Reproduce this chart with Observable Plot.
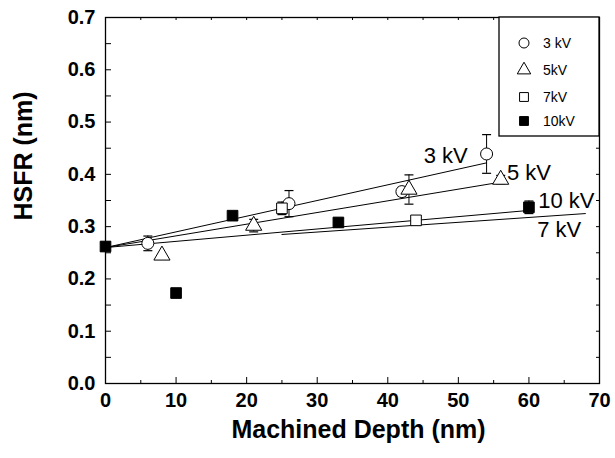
<!DOCTYPE html>
<html><head><meta charset="utf-8">
<script src="https://cdn.jsdelivr.net/npm/d3@7"></script>
<script src="https://cdn.jsdelivr.net/npm/@observablehq/plot@0.6"></script>
<style>body{margin:0;background:#fff}</style>
</head><body><div id="chart"></div>
<script>
// ---- data ----
const seriesNames = ["3 kV", "5kV", "7kV", "10kV"];
const kv3X = [6, 26, 42, 54];
const kv3Y = [0.268, 0.344, 0.367, 0.439];
const kv3E = [0.014, 0.025, 0.008, 0.037];
const kv5X = [8, 21, 43, 56];
const kv5Y = [0.245, 0.302, 0.371, 0.390];
const kv5E = [0, 0.012, 0.028, 0.008];
const kv7X = [25, 44];
const kv7Y = [0.335, 0.312];
const kv7E = [0.012, 0.006];
const kv10X = [0, 10, 18, 33, 60];
const kv10Y = [0.262, 0.173, 0.321, 0.308, 0.337];
const kv10E = [0.008, 0, 0, 0, 0.012];
// fitted lines (endpoints)
const fit3X = [0, 54], fit3Y = [0.26, 0.422];
const fit5X = [0, 55.5], fit5Y = [0.26, 0.384];
const fit7X = [25, 68], fit7Y = [0.285, 0.325];
const fit10X = [0, 60], fit10Y = [0.26, 0.331];
const lineLabels = ["3 kV", "5 kV", "10 kV", "7 kV"];
const lineLabelX = [48.2, 60.0, 65.3, 64.3];
const lineLabelY = [0.436, 0.402, 0.350, 0.293];
// ticks
const xTicks = [0, 10, 20, 30, 40, 50, 60, 70];
const xMinor = [5, 15, 25, 35, 45, 55, 65];
const yTicks = [0, 0.1, 0.2, 0.3, 0.4, 0.5, 0.6, 0.7];
const yTickLabels = ["0.0", "0.1", "0.2", "0.3", "0.4", "0.5", "0.6", "0.7"];
const yMinor = [0.05, 0.15, 0.25, 0.35, 0.45, 0.55, 0.65];
const xTitle = "Machined Depth (nm)";
const yTitle = "HSFR (nm)";

// ---- layout ----
const W = 615, H = 458, mL = 105, mR = 16, mT = 17, mB = 75;
const iw = W - mL - mR, ih = H - mT - mB;
const FONT = "'Liberation Sans', Arial, sans-serif";

const symbols = ["circle", "triangle", "square", "square"];
const fills = ["white", "white", "white", "black"];
const sets = [[kv3X, kv3Y, kv3E], [kv5X, kv5Y, kv5E], [kv7X, kv7Y, kv7E], [kv10X, kv10Y, kv10E]];
const pts = [];
sets.forEach(([xs, ys, es], k) => xs.forEach((x, i) => pts.push({s: seriesNames[k], k, x, y: ys[i], e: es[i]})));
const errPts = pts.filter(d => d.e > 0);
const fits = [[fit3X, fit3Y], [fit5X, fit5Y], [fit7X, fit7Y], [fit10X, fit10Y]]
  .map(([xs, ys], k) => xs.map((x, i) => ({k, x, y: ys[i]})));
const labels = lineLabels.map((t, i) => ({t, x: lineLabelX[i], y: lineLabelY[i]}));

const cap = {draw(ctx) { ctx.moveTo(-4.5, 0); ctx.lineTo(4.5, 0); }};

const marks = [
  // inward ticks
  Plot.tickX(xTicks, {x: d => d, insetTop: ih - 6, stroke: "black"}),
  Plot.tickX(xMinor, {x: d => d, insetTop: ih - 3, stroke: "black"}),
  Plot.tickX(xTicks.concat(xMinor), {x: d => d, insetBottom: ih - 3, stroke: "black"}),
  Plot.tickY(yTicks.concat(yMinor), {y: d => d, insetRight: iw - 6, stroke: "black"}),
  Plot.tickY(yTicks.concat(yMinor), {y: d => d, insetLeft: iw - 3, stroke: "black"}),
  Plot.axisX(xTicks, {tickSize: 0, tickPadding: 9, label: null, tickFormat: d => String(d)}),
  Plot.axisY(yTicks, {tickSize: 0, tickPadding: 10, label: null, tickFormat: d => yTickLabels[yTicks.indexOf(d)]}),
  Plot.frame({stroke: "black", strokeWidth: 1.3}),
  ...fits.map(f => Plot.line(f, {x: "x", y: "y", stroke: "black", strokeWidth: 1})),
  Plot.ruleX(errPts, {x: "x", y1: d => d.y - d.e, y2: d => d.y + d.e, stroke: "black", strokeWidth: 1}),
  Plot.dot(errPts, {x: "x", y: d => d.y - d.e, symbol: cap, stroke: "black", strokeWidth: 1.2}),
  Plot.dot(errPts, {x: "x", y: d => d.y + d.e, symbol: cap, stroke: "black", strokeWidth: 1.2}),
  Plot.dot(pts, {x: "x", y: "y", symbol: d => symbols[d.k], fill: d => fills[d.k], stroke: "black", strokeWidth: 1, r: 6}),
  Plot.text(labels, {x: "x", y: "y", text: "t", fontSize: 22, fontWeight: "normal", textAnchor: "middle"}),
  Plot.text([xTitle], {frameAnchor: "bottom", dy: 54, dx: 6, fontSize: 25, fontWeight: "bold"}),
  Plot.text([yTitle], {frameAnchor: "left", rotate: -90, dx: -82, dy: 20, fontSize: 25, fontWeight: "bold"})
];

const plot = Plot.plot({
  width: W, height: H,
  marginLeft: mL, marginRight: mR, marginTop: mT, marginBottom: mB,
  style: {fontFamily: FONT, fontSize: "20px", fontWeight: "bold", background: "white", color: "black", overflow: "visible"},
  x: {domain: [0, 70], axis: null},
  y: {domain: [0, 0.7], axis: null},
  symbol: {type: "identity"},
  fill: {type: "identity"},
  marks
});

// legend box (top-right corner of the frame)
const svg = d3.select(plot);
const lw = 100, lh = 119;
const lg = svg.append("g").attr("transform", `translate(${W - mR - lw},${mT})`);
lg.append("rect").attr("width", lw).attr("height", lh).attr("fill", "white").attr("stroke", "black").attr("stroke-width", 1.3);
const symTypes = [d3.symbolCircle, d3.symbolTriangle, d3.symbolSquare, d3.symbolSquare];
const rowY = [26, 53, 80, 104];
seriesNames.forEach((name, k) => {
  const g = lg.append("g").attr("transform", `translate(25,${rowY[k]})`);
  g.append("path").attr("d", d3.symbol(symTypes[k], Math.PI * 25)())
    .attr("fill", fills[k]).attr("stroke", "black").attr("stroke-width", 1);
  g.append("text").attr("x", 19).attr("y", 0).attr("dy", "0.35em")
    .style("font-size", "14px").style("font-weight", "normal").style("text-anchor", "start")
    .style("font-family", FONT).attr("fill", "black").text(name);
});

document.getElementById("chart").appendChild(plot);
</script>
</body></html>
